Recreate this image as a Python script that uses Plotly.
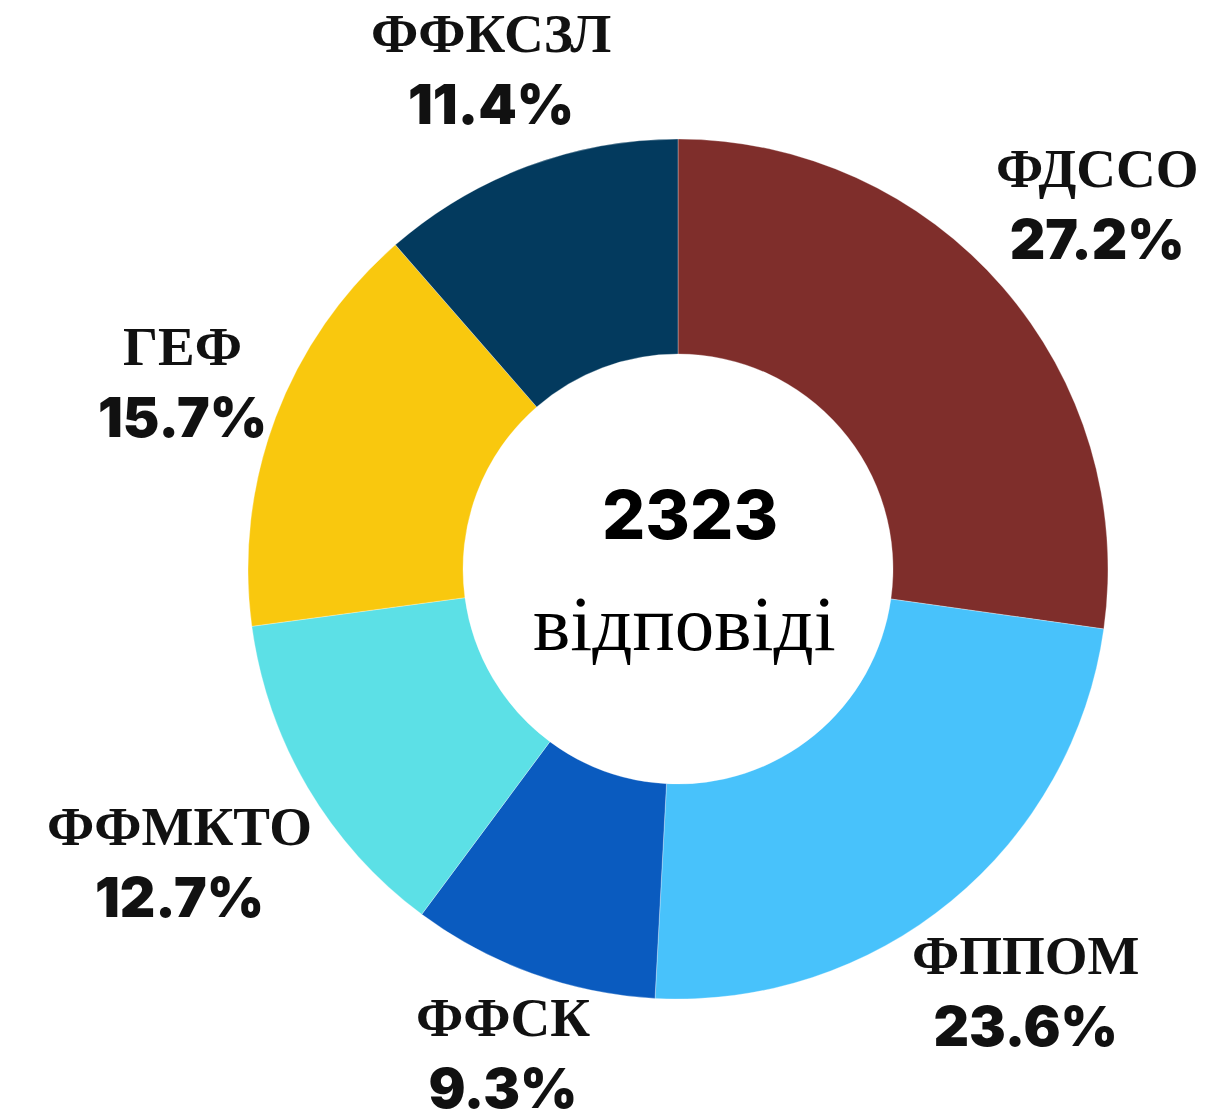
import math
import plotly.graph_objects as go

labels = ["ФДССО", "ФППОМ", "ФФСК", "ФФМКТО", "ГЕФ", "ФФКСЗЛ"]
percents = [27.2, 23.6, 9.3, 12.7, 15.7, 11.4]
colors = ["#7f2e2b", "#48c2fb", "#0a5bbf", "#5ce0e6", "#f9c80e", "#033a5e"]
total_responses = 2323
center_caption = "відповіді"

SERIF = "Liberation Serif"
SANS = "Inter"

W, H = 1223, 1115
# pie geometry (pixels)
CX, CY, R = 678, 569, 430
GAP = 432  # radius where label boxes start

fig = go.Figure(
    go.Pie(
        labels=labels,
        values=percents,
        textinfo="none",
        hole=0.5,
        sort=False,
        direction="clockwise",
        rotation=0,
        marker=dict(colors=colors, line=dict(color="rgba(255,255,255,0.6)", width=0.5)),
        showlegend=False,
        hoverinfo="label+percent",
        domain=dict(x=[(CX - R) / W, (CX + R) / W], y=[1 - (CY + R) / H, 1 - (CY - R) / H]),
    )
)

# outside labels placed along each slice's mid-angle
total = sum(percents)
cum = 0.0
for lab, p in zip(labels, percents):
    theta = 2 * math.pi * (cum + p / 2) / total
    cum += p
    ux, uy = math.sin(theta), math.cos(theta)
    pct = f"{p:.1f}%"
    bw = max(46 * len(lab), 33 * len(pct))
    bh = 112
    d = GAP + abs(ux) * bw / 2 + abs(uy) * bh / 2
    px = CX + d * ux
    py = CY - d * uy
    fig.add_annotation(
        x=px / W, y=1 - py / H, xref="paper", yref="paper",
        xanchor="center", yanchor="middle", showarrow=False,
        text=f"<b>{lab}</b><br><span style='font-family:{SANS};font-weight:900;font-size:55px'>{pct}</span>",
        font=dict(family=SERIF, size=55, color="#111111"),
        align="center",
    )

fig.add_annotation(
    x=690 / W, y=1 - 514 / H, xref="paper", yref="paper",
    xanchor="center", yanchor="middle",
    text=f"<span style='font-family:{SANS};font-weight:800'>{total_responses}</span>",
    showarrow=False, font=dict(size=68, color="#000000", family=SANS),
)
fig.add_annotation(
    x=684 / W, y=1 - 623 / H, xref="paper", yref="paper",
    xanchor="center", yanchor="middle",
    text=center_caption,
    showarrow=False, font=dict(size=79, color="#000000", family=SERIF),
)

fig.update_layout(
    width=W, height=H,
    margin=dict(l=0, r=0, t=0, b=0),
    paper_bgcolor="white",
    plot_bgcolor="white",
)

fig.write_html("out.html")
